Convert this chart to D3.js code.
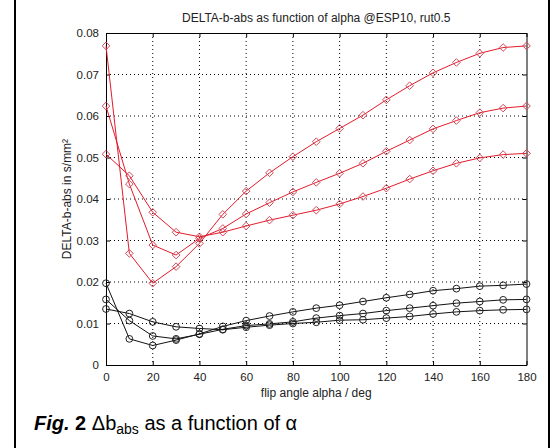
<!DOCTYPE html>
<html>
<head>
<meta charset="utf-8">
<script src="https://cdn.jsdelivr.net/npm/d3@7"></script>
<style>
  body { margin: 0; background: #fff; }
  svg { font-family: Arial, "Liberation Sans", sans-serif; }
</style>
</head>
<body>
<svg id="main-svg"></svg>
<script>
let width = 552;
let height = 448;

// flip angle alpha in deg
let alpha = [0, 10, 20, 30, 40, 50, 60, 70, 80, 90, 100, 110, 120, 130, 140, 150, 160, 170, 180];

// red (diamond) series
let redHigh = [0.0769, 0.0269, 0.0197, 0.0237, 0.0293, 0.0363, 0.0419, 0.0463, 0.0502, 0.0538,
  0.0570, 0.0602, 0.0639, 0.0673, 0.0704, 0.0729, 0.0751, 0.0765, 0.0769];
let redMid = [0.0624, 0.0436, 0.0289, 0.0265, 0.0305, 0.0329, 0.0364, 0.0391, 0.0417, 0.0440,
  0.0462, 0.0486, 0.0515, 0.0542, 0.0569, 0.0589, 0.0608, 0.0619, 0.0624];
let redLow = [0.0508, 0.0456, 0.0368, 0.0320, 0.0309, 0.0320, 0.0335, 0.0349, 0.0361, 0.0373,
  0.0388, 0.0406, 0.0426, 0.0448, 0.0468, 0.0486, 0.0499, 0.0507, 0.0510];

// black (circle) series
let blackHigh = [0.0197, 0.0063, 0.0047, 0.0060, 0.0075, 0.0093, 0.0107, 0.0118, 0.0128, 0.0137,
  0.0144, 0.0153, 0.0162, 0.0170, 0.0179, 0.0184, 0.0190, 0.0192, 0.0195];
let blackMid = [0.0158, 0.0107, 0.0070, 0.0063, 0.0074, 0.0086, 0.0095, 0.0099, 0.0104, 0.0113,
  0.0119, 0.0124, 0.0131, 0.0137, 0.0143, 0.0149, 0.0153, 0.0157, 0.0158];
let blackLow = [0.0135, 0.0124, 0.0104, 0.0092, 0.0088, 0.0085, 0.0091, 0.0096, 0.0100, 0.0103,
  0.0108, 0.0109, 0.0113, 0.0117, 0.0123, 0.0128, 0.0131, 0.0133, 0.0134];

let xTicks = [0, 20, 40, 60, 80, 100, 120, 140, 160, 180];
let yTicks = [0, 0.01, 0.02, 0.03, 0.04, 0.05, 0.06, 0.07, 0.08];

let titleText = 'DELTA-b-abs as function of alpha @ESP10, rut0.5';
let xLabel = 'flip angle alpha / deg';
let yLabel = 'DELTA-b-abs in s/mm\u00B2';

let plotLeft = 106, plotRight = 526.5, plotTop = 33, plotBottom = 365;

let svg = d3.select('#main-svg')
  .attr('width', width)
  .attr('height', height);

// outer frame
svg.append('line').attr('x1', 15).attr('x2', 15).attr('y1', 0).attr('y2', height)
  .style('stroke', '#000').style('stroke-width', 2);
svg.append('line').attr('x1', 549).attr('x2', 549).attr('y1', 0).attr('y2', height)
  .style('stroke', '#000').style('stroke-width', 2);

let x = d3.scaleLinear().domain([0, 180]).range([plotLeft, plotRight]);
let y = d3.scaleLinear().domain([0, 0.08]).range([plotBottom, plotTop]);

// grid
let grid = svg.append('g');
grid.selectAll('.gx').data(xTicks.slice(1, -1)).enter().append('line')
  .attr('x1', d => x(d)).attr('x2', d => x(d))
  .attr('y1', plotTop).attr('y2', plotBottom)
  .style('stroke', '#000').style('stroke-dasharray', '1,3').style('stroke-width', 1);
grid.selectAll('.gy').data(yTicks.slice(1, -1)).enter().append('line')
  .attr('x1', plotLeft).attr('x2', plotRight)
  .attr('y1', d => y(d)).attr('y2', d => y(d))
  .style('stroke', '#000').style('stroke-dasharray', '1,3').style('stroke-width', 1);

// axes (ticks inside, like matlab)
let fmtY = d => d === 0 ? '0' : d3.format('.2f')(d);
let axB = svg.append('g').attr('transform', `translate(0,${plotBottom})`)
  .call(d3.axisBottom(x).tickValues(xTicks).tickSizeInner(-4).tickSizeOuter(0).tickPadding(8));
let axL = svg.append('g').attr('transform', `translate(${plotLeft},0)`)
  .call(d3.axisLeft(y).tickValues(yTicks).tickFormat(fmtY).tickSizeInner(-4).tickSizeOuter(0).tickPadding(7));
let axT = svg.append('g').attr('transform', `translate(0,${plotTop})`)
  .call(d3.axisTop(x).tickValues(xTicks).tickSizeInner(-4).tickSizeOuter(0).tickFormat(''));
let axR = svg.append('g').attr('transform', `translate(${plotRight},0)`)
  .call(d3.axisRight(y).tickValues(yTicks).tickSizeInner(-4).tickSizeOuter(0).tickFormat(''));
[axB, axL, axT, axR].forEach(a => {
  a.select('.domain').style('stroke', '#000');
  a.selectAll('.tick line').style('stroke', '#000');
  a.selectAll('text').style('font-size', '11.5px').style('fill', '#222')
    .style('font-family', 'Arial, "Liberation Sans", sans-serif');
});

// series
let line = d3.line().x((d, i) => x(alpha[i])).y(d => y(d));
let reds = [redHigh, redMid, redLow];
let blacks = [blackHigh, blackMid, blackLow];

reds.forEach(s => {
  svg.append('path').datum(s).attr('d', line)
    .style('fill', 'none').style('stroke', '#e31b2b').style('stroke-width', 1);
  svg.append('g').selectAll('path').data(s).enter().append('path')
    .attr('d', 'M0,-3.8L3.8,0L0,3.8L-3.8,0Z')
    .attr('transform', (d, i) => `translate(${x(alpha[i])},${y(d)})`)
    .style('fill', 'none').style('stroke', '#d0485a').style('stroke-width', 1);
});

blacks.forEach(s => {
  svg.append('path').datum(s).attr('d', line)
    .style('fill', 'none').style('stroke', '#111').style('stroke-width', 1);
  svg.append('g').selectAll('circle').data(s).enter().append('circle')
    .attr('cx', (d, i) => x(alpha[i])).attr('cy', d => y(d)).attr('r', 3.4)
    .style('fill', 'none').style('stroke', '#222').style('stroke-width', 1);
});

// texts
svg.append('text').attr('x', (plotLeft + plotRight) / 2).attr('y', 22)
  .attr('text-anchor', 'middle').style('font-size', '12px').style('fill', '#222')
  .text(titleText);
svg.append('text').attr('x', (plotLeft + plotRight) / 2).attr('y', 397)
  .attr('text-anchor', 'middle').style('font-size', '12px').style('fill', '#222')
  .text(xLabel);
svg.append('text').attr('transform', `translate(71,${(plotTop + plotBottom) / 2}) rotate(-90)`)
  .attr('text-anchor', 'middle').style('font-size', '12px').style('fill', '#222')
  .text(yLabel);

// caption
let cap = svg.append('text').attr('x', 34).attr('y', 430)
  .style('font-size', '20px').style('fill', '#000');
cap.append('tspan').style('font-weight', 'bold').style('font-style', 'italic').text('Fig.');
cap.append('tspan').style('font-weight', 'bold').text(' 2');
cap.append('tspan').text(' \u0394b');
cap.append('tspan').attr('dy', 4).style('font-size', '14px').text('abs');
cap.append('tspan').attr('dy', -4).text(' as a function of \u03B1');
</script>
</body>
</html>
